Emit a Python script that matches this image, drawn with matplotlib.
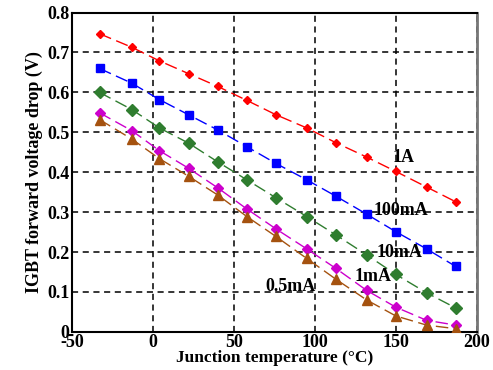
import matplotlib
matplotlib.use("Agg")
import matplotlib.pyplot as plt

temps = [-33, -13, 4, 22, 40, 58, 76, 95, 113, 132, 150, 169, 187]
v_1A = [0.747, 0.713, 0.679, 0.647, 0.615, 0.580, 0.544, 0.511, 0.474, 0.438, 0.402, 0.363, 0.326]
v_100mA = [0.660, 0.623, 0.582, 0.544, 0.506, 0.464, 0.422, 0.381, 0.340, 0.295, 0.251, 0.208, 0.164]
v_10mA = [0.600, 0.557, 0.511, 0.473, 0.426, 0.381, 0.336, 0.289, 0.243, 0.193, 0.144, 0.098, 0.060]
v_1mA = [0.549, 0.504, 0.454, 0.410, 0.361, 0.308, 0.258, 0.208, 0.159, 0.104, 0.062, 0.029, 0.017]
v_05mA = [0.532, 0.483, 0.434, 0.390, 0.343, 0.289, 0.239, 0.184, 0.132, 0.080, 0.040, 0.017, 0.008]

labels = ["1A", "100mA", "10mA", "1mA", "0.5mA"]
label_pos = [(155, 0.437), (153, 0.305), (152, 0.200), (136, 0.139), (85, 0.113)]

xticks = [-50, 0, 50, 100, 150, 200]
yticks = [0, 0.1, 0.2, 0.3, 0.4, 0.5, 0.6, 0.7, 0.8]
yticklabels = ["0", "0.1", "0.2", "0.3", "0.4", "0.5", "0.6", "0.7", "0.8"]

plt.rcParams['font.family'] = ['Liberation Serif', 'DejaVu Serif']
plt.rcParams['axes.unicode_minus'] = False

fig = plt.figure(figsize=(4.93, 3.70), dpi=100)
ax = fig.add_axes([0.146, 0.103, 0.821, 0.863])

series = [
    (v_1A, '#ff0000', 'D', 4.5),
    (v_100mA, '#0000ff', 's', 5.5),
    (v_10mA, '#2f7d2f', 'D', 6),
    (v_1mA, '#cc00cc', 'D', 5.5),
    (v_05mA, '#a5520f', '^', 7),
]
for vals, col, mk, ms in series:
    ax.plot(temps, vals, color=col, linestyle=(0, (9, 4)), linewidth=1.0,
            marker=mk, markersize=ms, markerfacecolor=col, markeredgecolor=col, zorder=3)

for lab, (x, y) in zip(labels, label_pos):
    ax.text(x, y, lab, fontsize=13, fontweight='bold', ha='center', va='center', zorder=4)

ax.set_xlim(-50, 200)
ax.set_ylim(0, 0.8)
ax.set_xticks(xticks)
ax.set_yticks(yticks)
ax.set_yticklabels(yticklabels)
ax.grid(True, color='black', linestyle=(0, (4, 3)), linewidth=1.1)
ax.set_axisbelow(True)
ax.tick_params(length=0, labelsize=13)
ax.tick_params(axis='x', pad=1.5)
ax.tick_params(axis='y', pad=2)
for lbl in ax.get_xticklabels() + ax.get_yticklabels():
    lbl.set_fontweight('bold')

for s in ['left', 'bottom', 'top']:
    ax.spines[s].set_color('black')
    ax.spines[s].set_linewidth(1.5)
ax.spines['right'].set_color('#777777')
ax.spines['right'].set_linewidth(2)

ax.set_xlabel("Junction temperature (°C)", fontsize=12.5, fontweight='bold', labelpad=-1)
ax.set_ylabel("IGBT forward voltage drop (V)", fontsize=13, fontweight='bold', labelpad=3)

fig.savefig("out.png", dpi=100)
